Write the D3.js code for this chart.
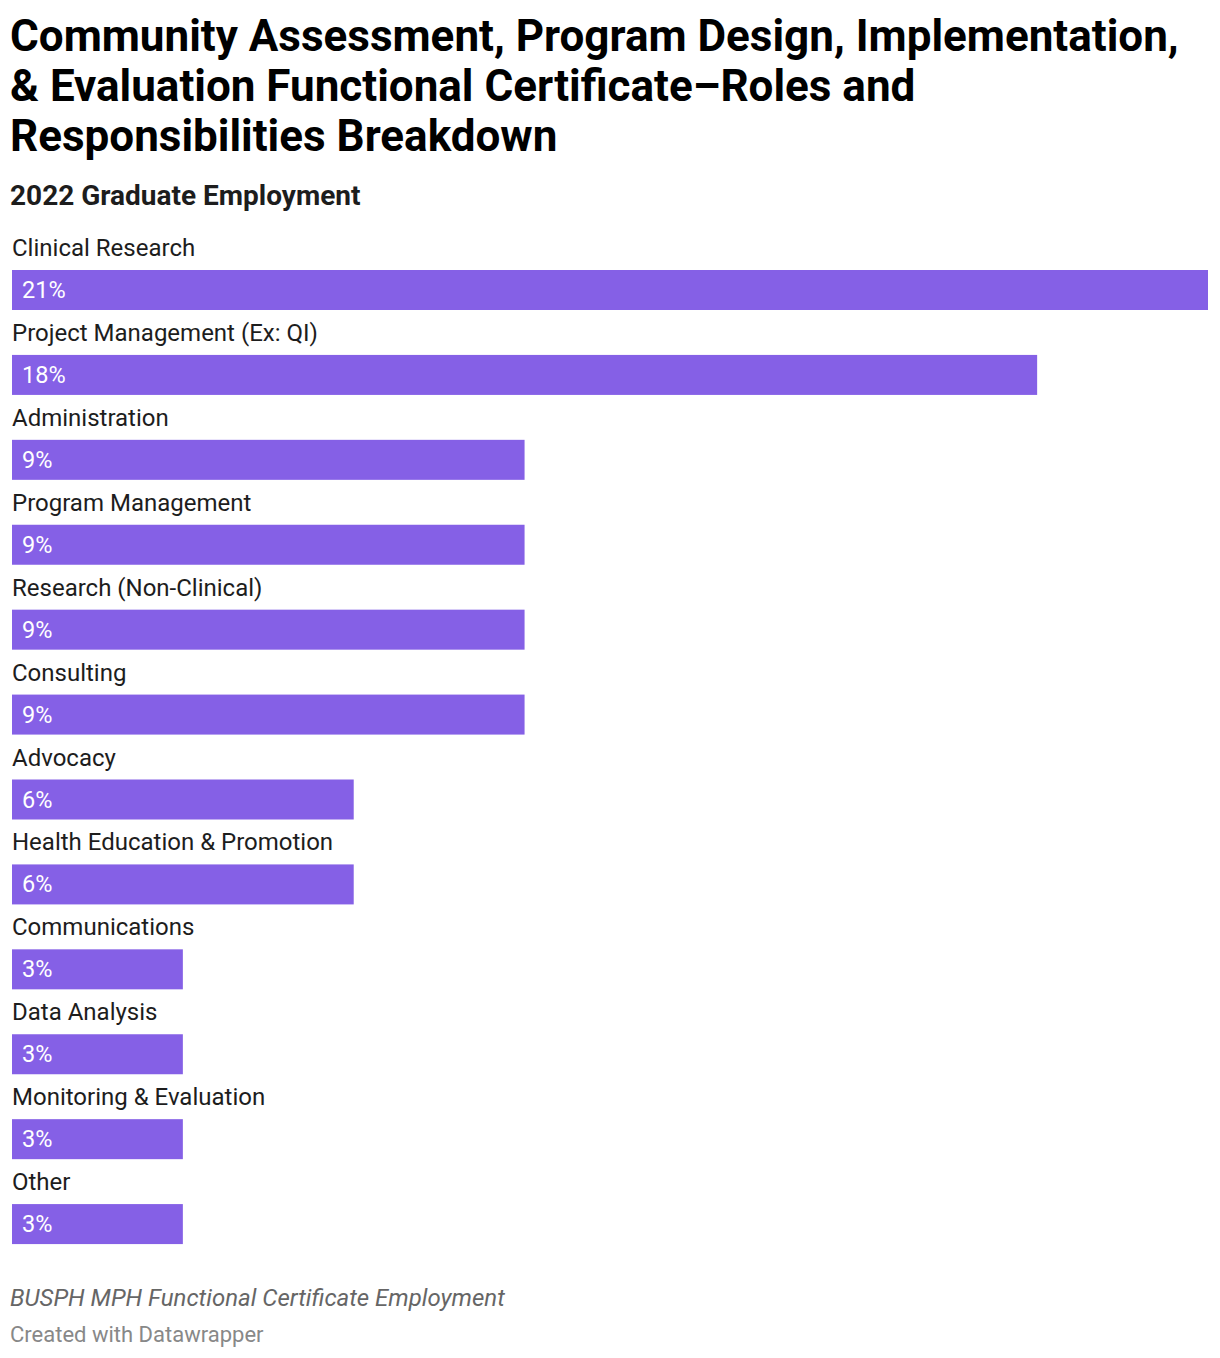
<!DOCTYPE html>
<html>
<head>
<meta charset="utf-8">
<script src="https://cdn.jsdelivr.net/npm/d3@7"></script>
<style>
  body { margin: 0; background: #fff; font-family: Roboto, sans-serif; }
</style>
</head>
<body>
<script>
// data
const categories = ["Clinical Research", "Project Management (Ex: QI)", "Administration",
  "Program Management", "Research (Non-Clinical)", "Consulting", "Advocacy",
  "Health Education & Promotion", "Communications", "Data Analysis",
  "Monitoring & Evaluation", "Other"];
const shares = [21, 18, 9, 9, 9, 9, 6, 6, 3, 3, 3, 3];

const titleLines = ["Community Assessment, Program Design, Implementation,",
  "& Evaluation Functional Certificate\u2013Roles and",
  "Responsibilities Breakdown"];

const width = 1220, height = 1358;
const left = 12, right = 1208;
const barColor = "#8560e6";

const svg = d3.select("body").append("svg")
    .attr("width", width)
    .attr("height", height);

// title
svg.append("g").selectAll("text")
    .data(titleLines)
    .enter()
    .append("text")
    .attr("x", 10)
    .attr("y", (d, i) => 51 + i * 50)
    .style("font-size", "44px")
    .style("font-weight", "bold")
    .attr("fill", "#000")
    .text(d => d);

svg.append("text")
    .attr("x", 10)
    .attr("y", 205)
    .style("font-size", "28px")
    .style("font-weight", "bold")
    .attr("fill", "#1d1d1d")
    .text("2022 Graduate Employment");

// scales
const x = d3.scaleLinear().domain([0, d3.max(shares)]).range([left, right]);
const y = d3.scaleBand().domain(categories).range([228, 1247]);

const rows = svg.append("g").selectAll("g")
    .data(categories)
    .enter()
    .append("g")
    .attr("transform", d => "translate(0," + y(d) + ")");

rows.append("text")
    .attr("x", left)
    .attr("y", 28)
    .style("font-size", "24px")
    .attr("fill", "#1d1d1d")
    .text(d => d);

rows.append("rect")
    .attr("x", left)
    .attr("y", 42)
    .attr("width", (d, i) => x(shares[i]) - left)
    .attr("height", 40)
    .attr("fill", barColor);

rows.append("text")
    .attr("x", left + 10)
    .attr("y", 70)
    .style("font-size", "23.5px")
    .attr("fill", "#fff")
    .text((d, i) => shares[i] + "%");

// footer
svg.append("text")
    .attr("x", 10)
    .attr("y", 1306)
    .style("font-size", "24px")
    .style("font-style", "italic")
    .attr("fill", "#666")
    .text("BUSPH MPH Functional Certificate Employment");

svg.append("text")
    .attr("x", 10)
    .attr("y", 1342)
    .style("font-size", "22px")
    .attr("fill", "#888")
    .text("Created with Datawrapper");
</script>
</body>
</html>
